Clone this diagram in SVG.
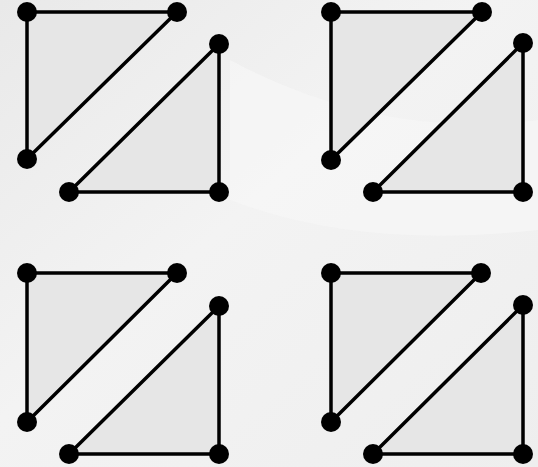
<svg xmlns="http://www.w3.org/2000/svg" width="538" height="467" viewBox="0 0 538 467">
<style>
.tri{fill:#e6e6e6;stroke:#000;stroke-width:3.5;stroke-linejoin:round}
.dot{fill:#000}
</style>
<defs>
<linearGradient id="bg" x1="0" y1="0" x2="1" y2="1">
<stop offset="0" stop-color="#e9e9e9"/>
<stop offset="0.45" stop-color="#f3f3f3"/>
<stop offset="1" stop-color="#eeeeee"/>
</linearGradient>
</defs>
<rect width="538" height="467" fill="url(#bg)"/>
<path d="M230 60 Q380 140 538 120 L538 230 Q360 250 230 200 Z" fill="#f7f7f7" opacity="0.7"/>
<g id="connectors">
<polygon class="tri" points="27,12 177,12 27,159"/>
<polygon class="tri" points="219,44 219,192 69,192"/>
<polygon class="tri" points="331,12 482,12 331,160"/>
<polygon class="tri" points="523,43 523,192 373,192"/>
<polygon class="tri" points="27,273 177,273 27,422"/>
<polygon class="tri" points="219,306 219,454 69,454"/>
<polygon class="tri" points="331,273 481,273 331,422"/>
<polygon class="tri" points="523,305 523,454 373,454"/>
</g>
<g id="n1"><circle class="dot" cx="27" cy="12" r="10"/></g>
<g id="n2"><circle class="dot" cx="177" cy="12" r="10"/></g>
<g id="n3"><circle class="dot" cx="27" cy="159" r="10"/></g>
<g id="n4"><circle class="dot" cx="219" cy="44" r="10"/></g>
<g id="n5"><circle class="dot" cx="69" cy="192" r="10"/></g>
<g id="n6"><circle class="dot" cx="219" cy="192" r="10"/></g>
<g id="n7"><circle class="dot" cx="331" cy="12" r="10"/></g>
<g id="n8"><circle class="dot" cx="482" cy="12" r="10"/></g>
<g id="n9"><circle class="dot" cx="331" cy="160" r="10"/></g>
<g id="n10"><circle class="dot" cx="523" cy="43" r="10"/></g>
<g id="n11"><circle class="dot" cx="373" cy="192" r="10"/></g>
<g id="n12"><circle class="dot" cx="523" cy="192" r="10"/></g>
<g id="n13"><circle class="dot" cx="27" cy="273" r="10"/></g>
<g id="n14"><circle class="dot" cx="177" cy="273" r="10"/></g>
<g id="n15"><circle class="dot" cx="27" cy="422" r="10"/></g>
<g id="n16"><circle class="dot" cx="219" cy="306" r="10"/></g>
<g id="n17"><circle class="dot" cx="69" cy="454" r="10"/></g>
<g id="n18"><circle class="dot" cx="219" cy="454" r="10"/></g>
<g id="n19"><circle class="dot" cx="331" cy="273" r="10"/></g>
<g id="n20"><circle class="dot" cx="481" cy="273" r="10"/></g>
<g id="n21"><circle class="dot" cx="331" cy="422" r="10"/></g>
<g id="n22"><circle class="dot" cx="523" cy="305" r="10"/></g>
<g id="n23"><circle class="dot" cx="373" cy="454" r="10"/></g>
<g id="n24"><circle class="dot" cx="523" cy="454" r="10"/></g>
</svg>
